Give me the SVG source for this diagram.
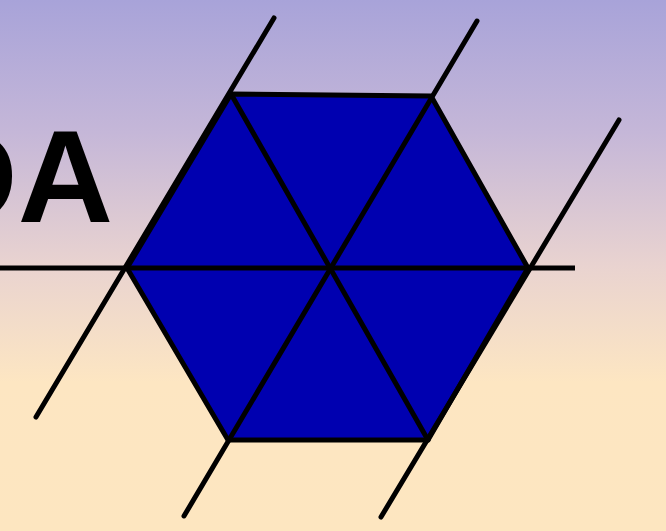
<svg xmlns="http://www.w3.org/2000/svg" width="666" height="531" viewBox="0 0 666 531">
<defs>
<linearGradient id="bg" x1="0" y1="0" x2="0" y2="1">
<stop offset="0" stop-color="#a8a3d9"/>
<stop offset="0.25" stop-color="#c5b7d8"/>
<stop offset="0.5" stop-color="#e9d3d0"/>
<stop offset="0.72" stop-color="#fde6c2"/>
<stop offset="1" stop-color="#fde6c0"/>
</linearGradient>
<style>
.ln{stroke:#000;stroke-width:5;stroke-linecap:round;fill:none}
.hex{fill:#0000b0;stroke:#000;stroke-width:5;stroke-linejoin:round}
.lbl{font-family:"Liberation Sans",Arial,sans-serif;font-weight:bold;font-size:132px;fill:#000}
</style>
</defs>
<rect x="0" y="0" width="666" height="531" fill="url(#bg)"/>
<g id="label"><text class="lbl" x="113" y="222" text-anchor="end">DA</text></g>
<g id="hexagon">
<polygon class="hex" points="231,94 431,96 528,268 428,440 228,440 127,268"/>
</g>
<g id="connectors">
<line class="ln" x1="0" y1="268" x2="575" y2="268" style="stroke-linecap:butt"/>
<line class="ln" x1="36" y1="417" x2="274" y2="18"/>
<line class="ln" x1="184" y1="516" x2="477" y2="21"/>
<line class="ln" x1="381" y1="517" x2="619" y2="120"/>
<line class="ln" x1="231" y1="94" x2="428" y2="440"/>
</g>
</svg>
